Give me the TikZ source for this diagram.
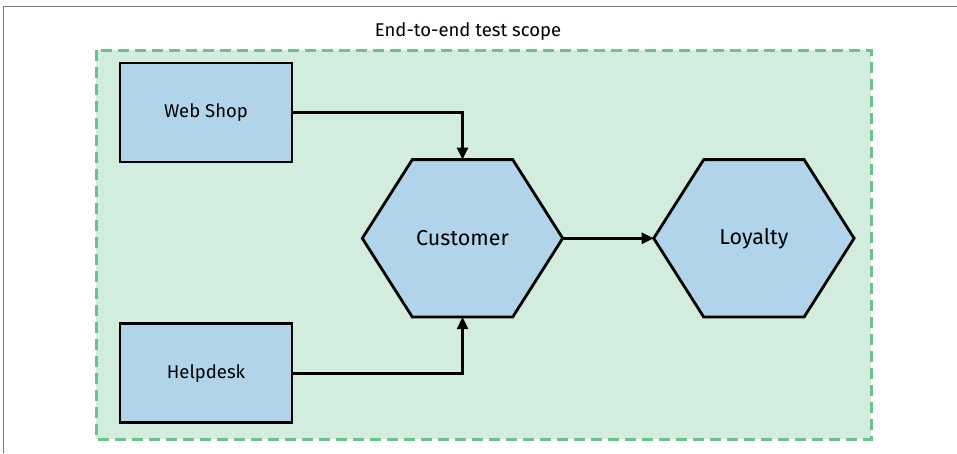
\documentclass[tikz,border=0pt]{standalone}
\usepackage{fontspec}
\setmainfont{Fira Sans}
\usepackage{xcolor}
\usetikzlibrary{arrows.meta, positioning, backgrounds}

\definecolor{boxblue}{HTML}{B1D4EA}
\definecolor{scopefill}{HTML}{D2ECDD}
\definecolor{scopeline}{HTML}{6CC28F}
\definecolor{framegray}{HTML}{777777}

\begin{document}
\begin{tikzpicture}[x=1pt, y=-1pt, font=\fontsize{18.5}{21}\selectfont,
        svc/.style={draw, line width=2.8pt, fill=boxblue,
                    minimum width=172pt, minimum height=99pt, inner sep=0pt},
        hexa/.style={minimum width=200pt, minimum height=157pt, inner sep=0pt,
                     font=\fontsize{21.5}{24}\selectfont},
        hexline/.style={draw, line width=2.8pt, fill=boxblue, line join=miter},
        conn/.style={line width=2.4pt, -{Triangle[length=12pt, width=11pt]}},
        testscope/.style={fill=scopefill, draw=scopeline, line width=3pt,
                          dash pattern=on 11pt off 6pt}]
      \useasboundingbox (0,0) rectangle (957,453);
      % frame edges of the figure
      \draw[framegray, line width=1.5pt] (957,6.5) -- (3.3,6.5) -- (3.3,453);
      % services
      \node[svc] (web) at (206,112.5) {Web Shop};
      \node[svc, below=159pt of web] (help) {Helpdesk};
      \node[hexa] (cust) at (462.5,238.3) {Customer};
      \node[hexa, right=91pt of cust] (loy) {Loyalty};
      \node (title) at (468,32) {End-to-end test scope};
      \begin{scope}[on background layer]
        \draw[testscope] (96,50) rectangle (871,439);
        \foreach \h in {cust, loy}
          \draw[hexline] (\h.west) -- ([xshift=50pt]\h.north west)
            -- ([xshift=-50pt]\h.north east) -- (\h.east)
            -- ([xshift=-50pt]\h.south east) -- ([xshift=50pt]\h.south west) -- cycle;
      \end{scope}
      \draw[conn] (web.east) -| (cust.north);
      \draw[conn] (help.east) -| (cust.south);
      \draw[conn] (cust.east) -- (loy.west);
    \end{tikzpicture}
\end{document}
